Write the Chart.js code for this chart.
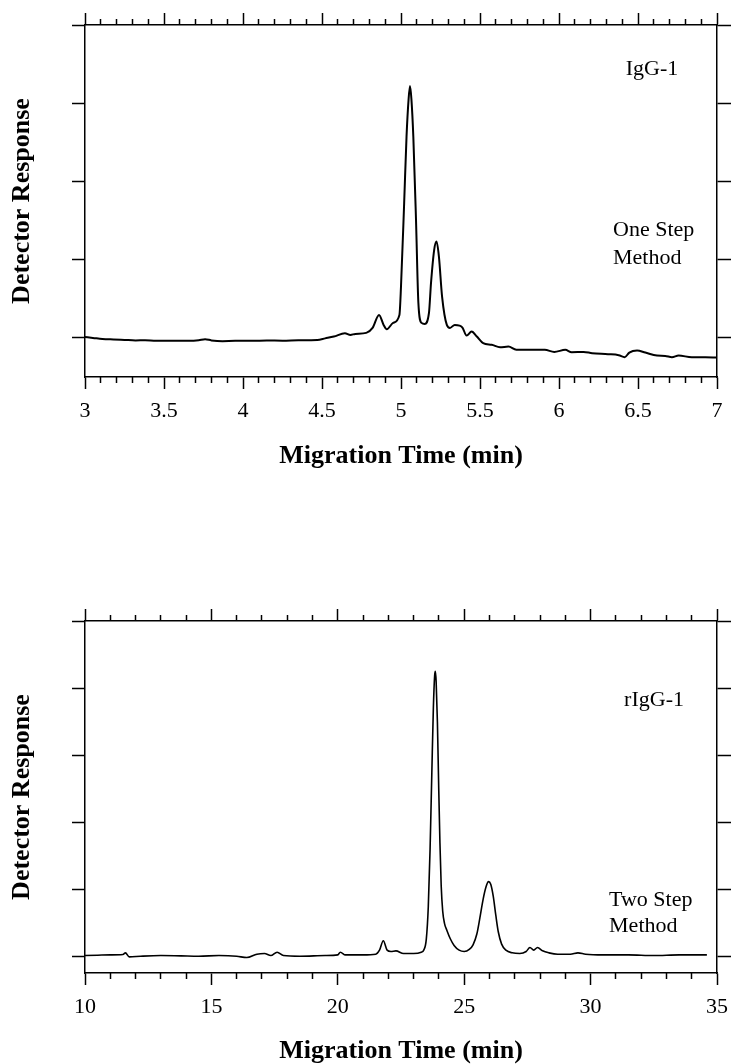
<!DOCTYPE html>
<html>
<head>
<meta charset="utf-8">
<script src="https://cdn.jsdelivr.net/npm/chart.js@4"></script>
<style>
html, body { margin: 0; padding: 0; background: #ffffff; }
body { width: 732px; height: 1064px; position: relative; overflow: hidden; }
.wrap { position: absolute; left: 0; width: 732px; height: 469px; }
#w1 { top: 0px; }
#w2 { top: 595px; }
canvas { display: block; }
</style>
</head>
<body>
<div class="wrap" id="w1"><canvas id="c1" width="732" height="469"></canvas></div>
<div class="wrap" id="w2"><canvas id="c2" width="732" height="469"></canvas></div>
<script>
// ---------- Panel 1: IgG-1, one step method ----------
const oneStepTimes = [3.00,3.05,3.11,3.18,3.25,3.32,3.38,3.45,3.52,3.60,
  3.66,3.72,3.76,3.80,3.87,3.95,4.06,4.15,4.25,4.35,
  4.47,4.52,4.575,4.645,4.68,4.71,4.78,4.82,4.861,4.89,
  4.91,4.95,4.99,5.00,5.02,5.035,5.048,5.057,5.066,5.078,
  5.095,5.11,5.13,5.15,5.177,5.19,5.21,5.225,5.24,5.26,
  5.29,5.31,5.34,5.37,5.39,5.415,5.447,5.48,5.52,5.574,
  5.627,5.68,5.73,5.82,5.91,5.97,6.04,6.08,6.156,6.21,
  6.31,6.378,6.416,6.445,6.494,6.546,6.62,6.672,6.715,6.757,
  6.84,6.926,7.00];
const oneStepResponse = [0.01,0.0,-0.013,-0.02,-0.026,-0.032,-0.03,-0.038,-0.038,-0.035,
  -0.038,-0.03,-0.017,-0.032,-0.042,-0.038,-0.038,-0.032,-0.035,-0.03,
  -0.026,-0.006,0.017,0.06,0.038,0.051,0.064,0.128,0.294,0.166,
  0.111,0.192,0.294,0.656,1.725,2.573,3.05,3.22,3.05,2.573,
  1.508,0.447,0.192,0.179,0.319,0.703,1.125,1.231,1.039,0.528,
  0.166,0.128,0.166,0.157,0.128,0.029,0.081,0.017,-0.068,-0.089,
  -0.119,-0.111,-0.153,-0.153,-0.153,-0.179,-0.153,-0.183,-0.179,-0.196,
  -0.208,-0.221,-0.247,-0.188,-0.162,-0.188,-0.226,-0.23,-0.247,-0.226,
  -0.247,-0.247,-0.252];
const oneStepMajorTicks = [3, 3.5, 4, 4.5, 5, 5.5, 6, 6.5, 7];
const oneStepTickLabels = ['3', '3.5', '4', '4.5', '5', '5.5', '6', '6.5', '7'];
const oneStepMinorTicks = [3.1,3.2,3.3,3.4,3.6,3.7,3.8,3.9,4.1,4.2,4.3,4.4,4.6,4.7,4.8,4.9,
  5.1,5.2,5.3,5.4,5.6,5.7,5.8,5.9,6.1,6.2,6.3,6.4,6.6,6.7,6.8,6.9];
const oneStepYTicks = [0, 1, 2, 3, 4];

// ---------- Panel 2: rIgG-1, two step method ----------
const twoStepTimes = [10.0,10.5,11.0,11.5,11.6,11.75,12.2,13.0,13.8,14.5,
  15.3,16.0,16.4,16.8,17.1,17.35,17.6,17.85,18.5,19.5,
  20.0,20.1,20.3,21.0,21.5,21.65,21.8,21.95,22.1,22.3,
  22.6,23.0,23.3,23.4,23.5,23.58,23.65,23.72,23.78,23.83,
  23.86,23.89,23.94,23.99,24.04,24.09,24.15,24.22,24.32,24.45,
  24.6,24.8,25.0,25.2,25.35,25.5,25.62,25.75,25.87,25.96,
  26.05,26.15,26.25,26.35,26.48,26.65,26.9,27.2,27.45,27.6,
  27.75,27.9,28.1,28.35,28.7,29.2,29.5,29.8,30.5,31.5,
  32.5,33.5,34.6];
const twoStepResponse = [0.02,0.025,0.03,0.035,0.06,0.0,0.01,0.02,0.015,0.01,
  0.02,0.01,-0.01,0.04,0.05,0.02,0.07,0.02,0.01,0.02,
  0.03,0.07,0.03,0.03,0.04,0.1,0.24,0.1,0.08,0.09,
  0.05,0.05,0.07,0.1,0.26,0.75,1.6,2.75,3.7,4.18,
  4.25,4.1,3.5,2.55,1.7,1.06,0.68,0.5,0.39,0.27,
  0.17,0.1,0.08,0.11,0.18,0.34,0.58,0.86,1.05,1.12,
  1.08,0.9,0.62,0.37,0.19,0.1,0.06,0.05,0.08,0.14,
  0.1,0.14,0.09,0.06,0.04,0.04,0.06,0.04,0.03,0.03,
  0.02,0.03,0.03];
const twoStepMajorTicks = [10, 15, 20, 25, 30, 35];
const twoStepTickLabels = ['10', '15', '20', '25', '30', '35'];
const twoStepMinorTicks = [11,12,13,14,16,17,18,19,21,22,23,24,26,27,28,29,31,32,33,34];
const twoStepYTicks = [0, 1, 2, 3, 4, 5];

// ---------- shared styling ----------
const SERIF = '"Liberation Serif", "Times New Roman", Times, serif';
const INK = '#000000';

const notesPlugin = {
  id: 'notes',
  afterDraw(chart, args, opts) {
    const ctx = chart.ctx;
    const xs = chart.scales.x, ys = chart.scales.y;
    ctx.save();
    ctx.fillStyle = INK;
    ctx.font = opts.size + 'px ' + SERIF;
    ctx.textBaseline = 'middle';
    (opts.items || []).forEach(it => {
      ctx.textAlign = it.align;
      ctx.fillText(it.text, xs.getPixelForValue(it.x), ys.getPixelForValue(it.y));
    });
    ctx.restore();
  }
};

function tickAxis(position, min, max, ticks, len, fitSize, weight, showBorder) {
  return {
    type: 'linear', position: position, min: min, max: max, weight: weight, display: true,
    afterBuildTicks: s => { s.ticks = ticks.map(v => ({ value: v })); },
    ticks: { display: false },
    grid: { drawOnChartArea: false, drawTicks: true, tickLength: len, tickWidth: 1.5, tickColor: INK },
    border: { display: showBorder, width: 1.5, color: INK },
    afterFit: s => {
      if (position === 'top' || position === 'bottom') s.height = fitSize; else s.width = fitSize;
      s.paddingLeft = 0; s.paddingRight = 0; s.paddingTop = 0; s.paddingBottom = 0;
    }
  };
}

function makePanel(canvasId, cfg) {
  const pts = cfg.times.map((t, i) => ({ x: t, y: cfg.values[i] }));
  return new Chart(document.getElementById(canvasId), {
    type: 'line',
    data: { datasets: [{
      data: pts, borderColor: INK, borderWidth: cfg.lineWidth, pointRadius: 0,
      fill: false, cubicInterpolationMode: 'monotone'
    }] },
    plugins: [notesPlugin],
    options: {
      responsive: false, animation: false, devicePixelRatio: 1,
      layout: { padding: 0 },
      plugins: { legend: { display: false }, tooltip: { enabled: false }, title: { display: false },
        notes: { size: 22, items: cfg.notes } },
      scales: {
        x: {
          type: 'linear', position: 'bottom', min: cfg.xMin, max: cfg.xMax, weight: 1,
          afterBuildTicks: s => { s.ticks = cfg.major.map(v => ({ value: v })); },
          ticks: { display: true, autoSkip: false, maxRotation: 0, color: INK, padding: cfg.labelPad,
            font: { family: SERIF, size: 22, lineHeight: 1.2 },
            callback: (v) => { const k = cfg.major.indexOf(v); return k >= 0 ? cfg.labels[k] : ''; } },
          grid: { drawOnChartArea: false, drawTicks: true, tickLength: 12, tickWidth: 1.5, tickColor: INK },
          border: { display: true, width: 1.5, color: INK },
          title: { display: true, text: 'Migration Time (min)', color: INK,
            font: { family: SERIF, size: 26, weight: 'bold', lineHeight: 1 }, padding: { top: 0, bottom: 0 } },
          afterFit: s => { s.height = cfg.bottomH; s.paddingLeft = 0; s.paddingRight = 0; }
        },
        xMinor: tickAxis('bottom', cfg.xMin, cfg.xMax, cfg.minor, 6, 0, 0, false),
        xTop: tickAxis('top', cfg.xMin, cfg.xMax, cfg.major, 12, cfg.topH, 1, true),
        xTopMinor: tickAxis('top', cfg.xMin, cfg.xMax, cfg.minor, 6, 0, 0, false),
        y: {
          type: 'linear', position: 'left', min: cfg.yMin, max: cfg.yMax,
          afterBuildTicks: s => { s.ticks = cfg.yTicks.map(v => ({ value: v })); },
          ticks: { display: false },
          grid: { drawOnChartArea: false, drawTicks: true, tickLength: 13, tickWidth: 1.5, tickColor: INK },
          border: { display: true, width: 1.5, color: INK },
          title: { display: true, text: 'Detector Response', color: INK,
            font: { family: SERIF, size: 26, weight: 'bold', lineHeight: 1 }, padding: { top: 9, bottom: 0 } },
          afterFit: s => { s.width = 85; s.paddingTop = 0; s.paddingBottom = 0; }
        },
        y2: tickAxis('right', cfg.yMin, cfg.yMax, cfg.yTicks, 14, 15, 0, true)
      }
    }
  });
}

makePanel('c1', {
  times: oneStepTimes, values: oneStepResponse, lineWidth: 2,
  xMin: 3, xMax: 7, major: oneStepMajorTicks, labels: oneStepTickLabels, minor: oneStepMinorTicks,
  yMin: -0.5, yMax: 4, yTicks: oneStepYTicks,
  topH: 25, bottomH: 92, labelPad: 9,
  notes: [
    { text: 'IgG-1', x: 6.589, y: 3.44, align: 'center' },
    { text: 'One Step', x: 6.342, y: 1.38, align: 'left' },
    { text: 'Method', x: 6.342, y: 1.022, align: 'left' }
  ]
});

makePanel('c2', {
  times: twoStepTimes, values: twoStepResponse, lineWidth: 1.6,
  xMin: 10, xMax: 35, major: twoStepMajorTicks, labels: twoStepTickLabels, minor: twoStepMinorTicks,
  yMin: -0.24, yMax: 5, yTicks: twoStepYTicks,
  topH: 26, bottomH: 91, labelPad: 9,
  notes: [
    { text: 'rIgG-1', x: 32.51, y: 3.82, align: 'center' },
    { text: 'Two Step', x: 30.73, y: 0.85, align: 'left' },
    { text: 'Method', x: 30.73, y: 0.45, align: 'left' }
  ]
});
</script>
</body>
</html>
